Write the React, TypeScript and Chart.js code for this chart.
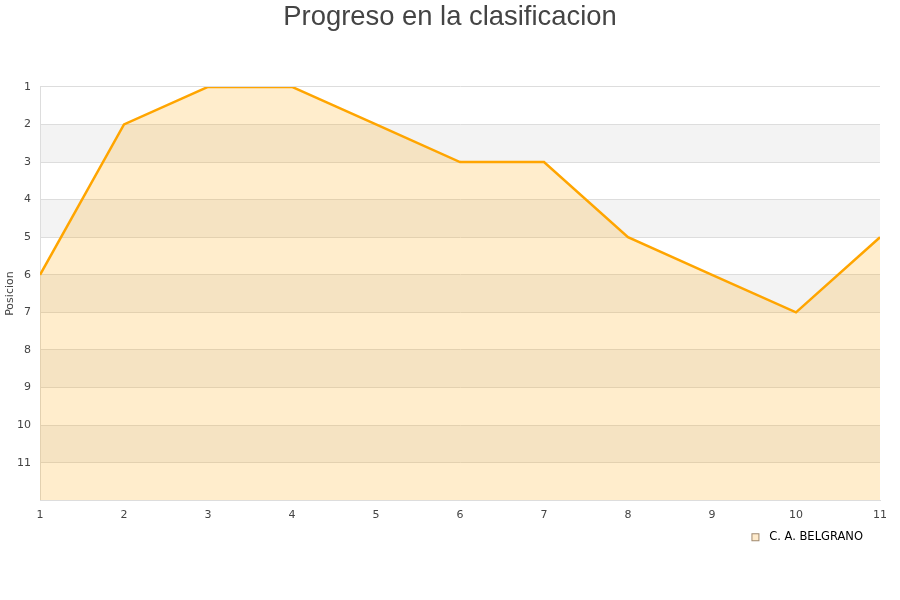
import React, { useEffect, useRef } from "react";
import { Chart, registerables } from "chart.js";

Chart.register(...registerables);

const jornadas = [1, 2, 3, 4, 5, 6, 7, 8, 9, 10, 11];
const posiciones = [6, 2, 1, 1, 2, 3, 3, 5, 6, 7, 5];
const equipo = "C. A. BELGRANO";
const titulo = "Progreso en la clasificacion";
const ejeY = "Posicion";

const bandsPlugin = {
  id: "bands",
  afterLayout(chart: any) {
    if (chart.legend) {
      chart.legend.right -= 15;
    }
    if (chart.titleBlock) {
      chart.titleBlock.left += 8;
      chart.titleBlock.right += 8;
    }
  },
  beforeDraw(chart: any) {
    const { ctx, chartArea } = chart;
    const y = chart.scales.y;
    ctx.save();
    ctx.fillStyle = "#ffffff";
    ctx.fillRect(chartArea.left, chartArea.top, chartArea.right - chartArea.left, chartArea.bottom - chartArea.top);
    ctx.fillStyle = "#f3f3f3";
    for (let v = 2; v < 12; v += 2) {
      const a = y.getPixelForValue(v);
      const b = y.getPixelForValue(v + 1);
      ctx.fillRect(chartArea.left, Math.min(a, b), chartArea.right - chartArea.left, Math.abs(b - a));
    }
    ctx.restore();
  },
};

function legendMarker() {
  const c = document.createElement("canvas");
  c.width = 13;
  c.height = 10;
  const g = c.getContext("2d")!;
  g.fillStyle = "#ffebcc";
  g.fillRect(1, 1, 8, 8);
  g.strokeStyle = "#a08a70";
  g.lineWidth = 1;
  g.strokeRect(1.5, 1.5, 7, 7);
  return c;
}

export default function App() {
  const ref = useRef<HTMLCanvasElement>(null);
  useEffect(() => {
    const marker = legendMarker();
    const chart = new Chart(ref.current!, {
      type: "line",
      data: {
        labels: jornadas,
        datasets: [
          {
            label: equipo,
            data: jornadas.map((j, i) => ({ x: j, y: posiciones[i] })),
            borderColor: "#ffa500",
            backgroundColor: "rgba(255,165,0,0.2)",
            borderWidth: 2.5,
            pointRadius: 0,
            pointStyle: marker as any,
            fill: "start",
            tension: 0,
          },
        ],
      },
      options: {
        animation: false,
        responsive: false,
        layout: { padding: { left: 4, right: 20, top: 1, bottom: 47 } },
        plugins: {
          title: {
            display: true,
            text: titulo,
            color: "#444",
            font: { family: "Liberation Sans", size: 27.4, weight: "normal" },
            padding: { top: 0, bottom: 53 },
          },
          legend: {
            position: "bottom",
            align: "end",
            labels: {
              usePointStyle: true,
              pointStyleWidth: 13,
              boxHeight: 10,
              padding: 2,
              color: "#000",
              font: { family: "DejaVu Sans", size: 11.5 },
            },
          },
          tooltip: { enabled: false },
        },
        scales: {
          x: {
            type: "linear",
            min: 1,
            max: 11,
            ticks: { stepSize: 1, padding: 8, color: "#444", font: { family: "DejaVu Sans", size: 11 } },
            grid: { display: false, drawTicks: false },
            border: { display: true, color: "#ddd" },
          },
          y: {
            reverse: true,
            min: 1,
            max: 12,
            afterFit: (s: any) => {
              s.width = 36;
            },
            ticks: {
              stepSize: 1,
              color: "#444",
              padding: 9,
              font: { family: "DejaVu Sans", size: 11 },
              callback: (v: any) => (v === 12 ? "" : String(v)),
            },
            title: { display: true, text: ejeY, color: "#444", font: { family: "DejaVu Sans", size: 11 }, padding: 0 },
            grid: { color: "#dddddd", drawTicks: false },
            border: { display: true, color: "#ddd" },
          },
        },
      },
      plugins: [bandsPlugin],
    });
    return () => chart.destroy();
  }, []);
  return (
    <div style={{ position: "absolute", left: 0, top: 0, width: 900, height: 600 }}>
      <canvas ref={ref} width={900} height={600} />
    </div>
  );
}
